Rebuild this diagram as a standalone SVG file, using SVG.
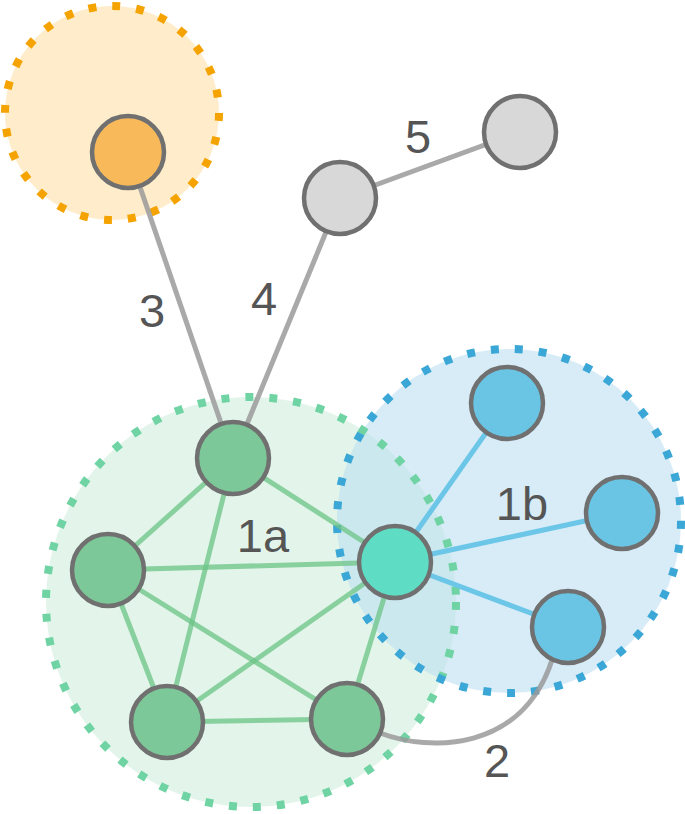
<svg xmlns="http://www.w3.org/2000/svg" width="685" height="814" viewBox="0 0 685 814">
<style>
.grp{stroke-width:8;stroke-dasharray:8 16;fill:none;}
.node{stroke:#707070;stroke-width:4.5;}
.ge{stroke:#9a9a9a;stroke-width:5;fill:none;opacity:0.85;}
.gr{stroke:#6cc486;stroke-width:5;opacity:0.75;}
.bl{stroke:#6cc6e8;stroke-width:5;}
.lbl{font-family:"Liberation Sans",Arial,sans-serif;font-size:47px;fill:#555;text-anchor:middle;}
</style>
<rect width="685" height="814" fill="#fff"/>
<g id="group-orange">
<circle cx="112" cy="113" r="107" fill="#fde5b8" fill-opacity="0.75"/>
<circle cx="112" cy="113" r="107" stroke="#f5a300" class="grp"/>
</g>
<g id="group-1a"><circle cx="251" cy="602" r="205" fill="#c8ebd8" fill-opacity="0.5"/></g>
<g id="group-1b"><circle cx="509" cy="521" r="172" fill="#b8dcf1" fill-opacity="0.55"/></g>
<g id="group-outlines">
<circle cx="251" cy="602" r="205" stroke="#6fd3a3" class="grp"/>
<circle cx="509" cy="521" r="172" stroke="#3aa7d6" class="grp"/>
</g>
<g id="connectors">
<line class="ge" x1="128" y1="152" x2="233" y2="458"/>
<line class="ge" x1="340" y1="198" x2="233" y2="458"/>
<line class="ge" x1="340" y1="198" x2="520" y2="132"/>
<path class="ge" d="M380,733 C430,752 522,752 552,660"/>
<line class="gr" x1="233" y1="458" x2="108" y2="570"/>
<line class="gr" x1="233" y1="458" x2="167" y2="722"/>
<line class="gr" x1="233" y1="458" x2="395" y2="562"/>
<line class="gr" x1="108" y1="570" x2="395" y2="562"/>
<line class="gr" x1="108" y1="570" x2="347" y2="719"/>
<line class="gr" x1="108" y1="570" x2="167" y2="722"/>
<line class="gr" x1="167" y1="722" x2="347" y2="719"/>
<line class="gr" x1="167" y1="722" x2="395" y2="562"/>
<line class="gr" x1="347" y1="719" x2="395" y2="562"/>
<line class="bl" x1="395" y1="562" x2="507" y2="403"/>
<line class="bl" x1="395" y1="562" x2="622" y2="513"/>
<line class="bl" x1="395" y1="562" x2="568" y2="627"/>
</g>
<g id="n-orange"><circle class="node" cx="128" cy="152" r="36" fill="#f8b95a"/></g>
<g id="n-gray1"><circle class="node" cx="340" cy="198" r="36" fill="#d8d8d8"/></g>
<g id="n-gray2"><circle class="node" cx="520" cy="132" r="36" fill="#d8d8d8"/></g>
<g id="n-g-top"><circle class="node" cx="233" cy="458" r="36" fill="#7dc898"/></g>
<g id="n-g-left"><circle class="node" cx="108" cy="570" r="36" fill="#7dc898"/></g>
<g id="n-g-bl"><circle class="node" cx="167" cy="722" r="36" fill="#7dc898"/></g>
<g id="n-g-br"><circle class="node" cx="347" cy="719" r="36" fill="#7dc898"/></g>
<g id="n-teal"><circle class="node" cx="395" cy="562" r="36" fill="#5fdcc4"/></g>
<g id="n-b1"><circle class="node" cx="507" cy="403" r="36" fill="#6ac5e5"/></g>
<g id="n-b2"><circle class="node" cx="622" cy="513" r="36" fill="#6ac5e5"/></g>
<g id="n-b3"><circle class="node" cx="568" cy="627" r="36" fill="#6ac5e5"/></g>
<g id="labels">
<text class="lbl" x="152" y="327">3</text>
<text class="lbl" x="264" y="315">4</text>
<text class="lbl" x="418" y="153">5</text>
<text class="lbl" x="263" y="552">1a</text>
<text class="lbl" x="522" y="520">1b</text>
<text class="lbl" x="497" y="777">2</text>
</g>
</svg>
